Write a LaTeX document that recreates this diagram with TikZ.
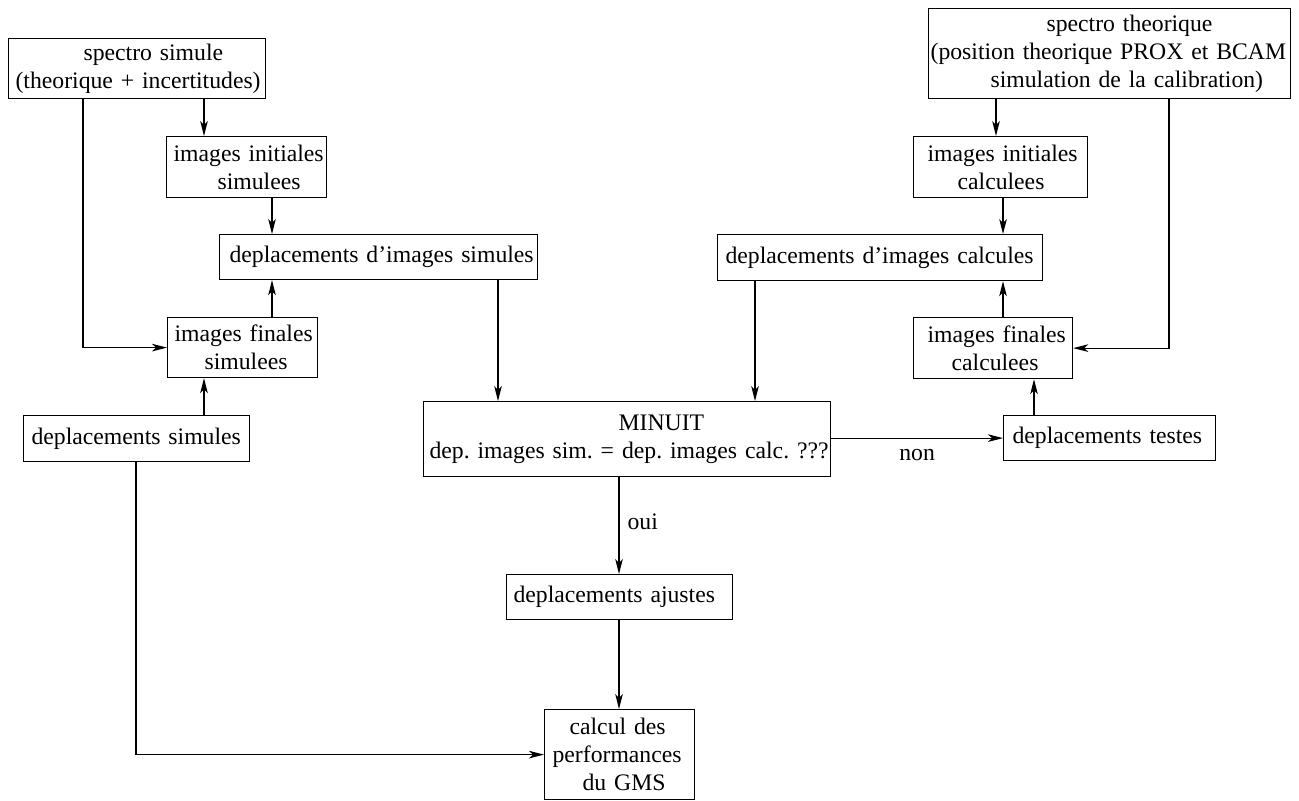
\documentclass[tikz,border=0pt]{standalone}
\usepackage{fontspec}
\setmainfont{Liberation Serif}
\usetikzlibrary{arrows.meta}
\newcommand\rowtxt[2]{\hspace*{\dimexpr #1pt/2\relax}\mbox{#2}}
\frenchspacing
\begin{document}
\begin{tikzpicture}[x=0.5pt,y=-0.5pt,
  every node/.style={font=\fontsize{11.85}{14}\selectfont},
  box/.style={draw, line width=0.6pt, anchor=north west, align=left, inner xsep=0pt, inner ysep=0pt},
  arr/.style={draw, line width=0.6pt, -{Stealth[length=7.5pt,width=3.8pt,inset=2pt]}}]
\useasboundingbox (0,0) rectangle (1299,800);
% left column
\node[box, text width=128.5pt, minimum height=30pt] (ss) at (8,38)
  {\rowtxt{75}{spectro simule}\\\rowtxt{7}{(theorique + incertitudes)}};
\node[box, text width=80pt, minimum height=30.5pt] (iis) at (166,136)
  {\rowtxt{7}{images initiales}\\\rowtxt{51}{simulees}};
\node[box, text width=159pt, minimum height=22.5pt] (dis) at (219,234)
  {\rowtxt{10}{deplacements d’images simules}};
\node[box, text width=75pt, minimum height=30pt] (ifs) at (167,317)
  {\rowtxt{7}{images finales}\\\rowtxt{37}{simulees}};
\node[box, text width=113pt, minimum height=23pt] (ds) at (23,415)
  {\rowtxt{8}{deplacements simules}};
% centre
\node[box, text width=203.5pt, minimum height=37.5pt] (min) at (423,401)
  {\rowtxt{195}{MINUIT}\\\rowtxt{6}{dep. images sim. = dep. images calc. ???}};
\node[box, text width=113pt, minimum height=22.5pt] (da) at (506,574)
  {\rowtxt{7}{deplacements ajustes}};
\node[box, text width=75pt, minimum height=45pt] (cal) at (544,709)
  {\rowtxt{25}{calcul des}\\\rowtxt{8}{performances}\\\rowtxt{38}{du GMS}};
% right column
\node[box, text width=181pt, minimum height=45pt] (st) at (928,8)
  {\rowtxt{118}{spectro theorique}\\\rowtxt{2}{(position theorique PROX et BCAM}\\\rowtxt{62}{simulation de la calibration)}};
\node[box, text width=87pt, minimum height=30.5pt] (iic) at (913,136)
  {\rowtxt{14}{images initiales}\\\rowtxt{44}{calculees}};
\node[box, text width=162.5pt, minimum height=23pt] (dic) at (717,234)
  {\rowtxt{8}{deplacements d’images calcules}};
\node[box, text width=79.5pt, minimum height=30.5pt] (ifc) at (913,317)
  {\rowtxt{14}{images finales}\\\rowtxt{38}{calculees}};
\node[box, text width=106pt, minimum height=22.5pt] (dt) at (1003,415)
  {\rowtxt{9}{deplacements testes}};
% connectors, left
\draw[arr] (83,0 |- ss.south) |- (ifs.west);
\draw[arr] (204,0 |- ss.south) -- (204,0 |- iis.north);
\draw[arr] (272,0 |- iis.south) -- (272,0 |- dis.north);
\draw[arr] (272,0 |- ifs.north) -- (272,0 |- dis.south);
\draw[arr] (204,0 |- ds.north) -- (204,0 |- ifs.south);
% connectors, centre
\draw[arr] (498,0 |- dis.south) -- (498,0 |- min.north);
\draw[arr] (755,0 |- dic.south) -- (755,0 |- min.north);
\draw[arr] (min.east |- dt.west) -- node[below, inner sep=5.5pt] (lnon) {non} (dt.west);
\draw[arr] (619,0 |- min.south) -- node[right, pos=0.46, inner sep=4pt] (loui) {oui} (619,0 |- da.north);
\draw[arr] (619,0 |- da.south) -- (619,0 |- cal.north);
\draw[arr] (136,0 |- ds.south) |- (cal.west);
% connectors, right
\draw[arr] (996,0 |- st.south) -- (996,0 |- iic.north);
\draw[arr] (1003,0 |- iic.south) -- (1003,0 |- dic.north);
\draw[arr] (1003,0 |- ifc.north) -- (1003,0 |- dic.south);
\draw[arr] (1034,0 |- dt.north) -- (1034,0 |- ifc.south);
\draw[arr] (1169,0 |- st.south) |- (ifc.east);
\end{tikzpicture}
\end{document}
